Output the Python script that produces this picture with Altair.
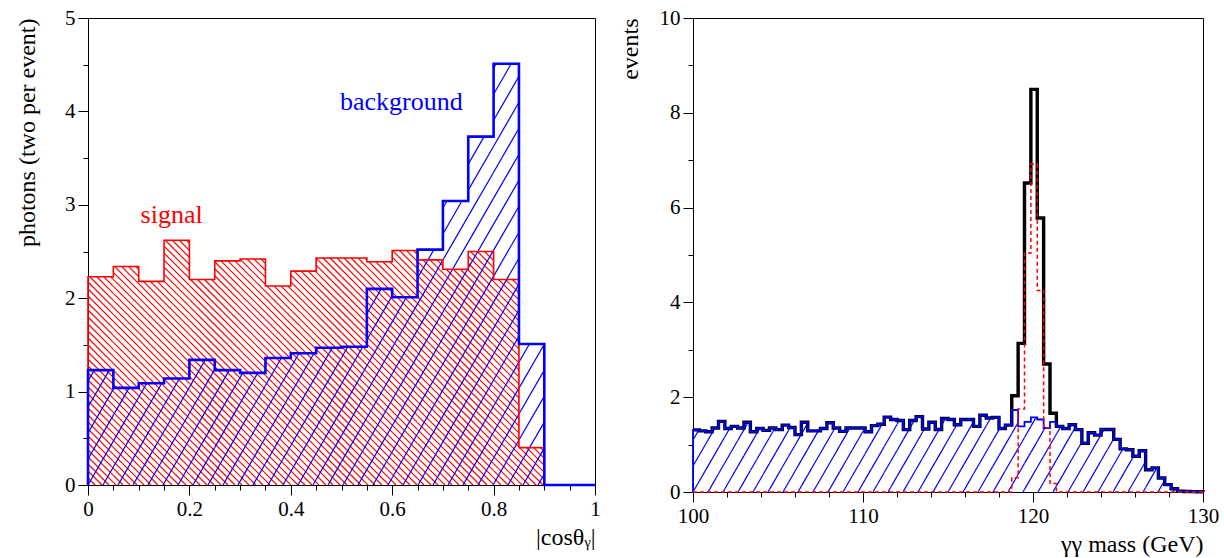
import math
import altair as alt
import pandas as pd

# ---------------- data ----------------
# left panel: |cos theta_gamma|, 20 bins of 0.05 between 0 and 1
cos_lo, cos_bin, cos_nbins = 0.0, 0.05, 20
signal_cos = [2.23, 2.34, 2.18, 2.62, 2.20, 2.40, 2.42, 2.13, 2.29, 2.43,
              2.43, 2.39, 2.51, 2.41, 2.31, 2.50, 2.20, 0.40, 0.0, 0.0]
background_cos = [1.23, 1.04, 1.09, 1.14, 1.34, 1.23, 1.20, 1.36, 1.41, 1.47,
                  1.48, 2.10, 2.01, 2.52, 3.04, 3.73, 4.51, 1.51, 0.0, 0.0]

# right panel: diphoton mass, 80 bins of 0.375 GeV between 100 and 130
mass_lo, mass_bin, mass_nbins = 100.0, 0.375, 80
background_mass = [
    1.31, 1.29, 1.27, 1.35, 1.49, 1.34, 1.385, 1.35, 1.47, 1.27,
    1.34, 1.30, 1.35, 1.315, 1.41, 1.36, 1.21, 1.47, 1.29, 1.29,
    1.34, 1.46, 1.35, 1.28, 1.35, 1.35, 1.35, 1.27, 1.40, 1.43,
    1.58, 1.53, 1.51, 1.315, 1.51, 1.59, 1.33, 1.47, 1.32, 1.55,
    1.53, 1.42, 1.53, 1.53, 1.385, 1.62, 1.56, 1.575, 1.34, 1.41,
    1.73, 1.385, 1.48, 1.575, 1.53, 1.35, 1.48, 1.385, 1.34, 1.42,
    1.315, 1.03, 1.25, 1.20, 1.32, 1.32, 1.11, 0.91, 0.89, 0.755,
    0.87, 0.47, 0.51, 0.295, 0.155, 0.07, 0.015, 0.012, 0.008, 0.005]
signal_mass = [0.0] * 50 + [0.30, 1.75, 5.04, 6.92, 4.25, 1.35, 0.18] + [0.0] * 23

cos_ticks = [round(0.05 * i, 2) for i in range(21)]
cos_y_ticks = [0.5 * i for i in range(11)]
mass_ticks = [100 + 2 * i for i in range(16)]
mass_y_ticks = list(range(11))

FONT = "Liberation Serif, Times New Roman, Times, serif"
RED = "#ff0000"
BLUE = "#0000ff"


def edges(lo, width, n):
    return [lo + width * i for i in range(n + 1)]


def step_frame(e, vals, start_zero=True, end_zero=True):
    pts = []
    if start_zero:
        pts.append((e[0], 0.0))
    for i, v in enumerate(vals):
        pts.append((e[i], v))
        pts.append((e[i + 1], v))
    if end_zero:
        pts.append((e[-1], 0.0))
    return pd.DataFrame({"x": [p[0] for p in pts], "y": [p[1] for p in pts],
                         "i": list(range(len(pts)))})


def hatch_frame(e, vals, sx, sy, spacing, angle, direction):
    """Diagonal hatch segments clipped to the area under a step histogram.
    sx, sy: pixels per data unit; spacing: horizontal line spacing in px."""
    cot = 1.0 / math.tan(math.radians(angle))
    hmax = max(vals) * sy
    xtot = (e[-1] - e[0]) * sx
    if direction == "/":
        k0 = int(math.floor(-hmax * cot / spacing)) - 1
        k1 = int(math.ceil(xtot / spacing)) + 1
    else:
        k0 = -1
        k1 = int(math.ceil((xtot + hmax * cot) / spacing)) + 1
    rows = []
    for i, v in enumerate(vals):
        if v <= 0:
            continue
        X0 = (e[i] - e[0]) * sx
        X1 = (e[i + 1] - e[0]) * sx
        H = v * sy
        for k in range(k0, k1 + 1):
            c = k * spacing
            if direction == "/":
                ya, yb = (X0 - c) / cot, (X1 - c) / cot
            else:
                ya, yb = (c - X1) / cot, (c - X0) / cot
            lo, hi = max(ya, 0.0), min(yb, H)
            if hi - lo <= 1e-9:
                continue
            if direction == "/":
                xa, xb = c + lo * cot, c + hi * cot
            else:
                xa, xb = c - lo * cot, c - hi * cot
            rows.append({"x": e[0] + xa / sx, "y": lo / sy,
                         "x2": e[0] + xb / sx, "y2": hi / sy})
    return pd.DataFrame(rows)


def tick_axis(values, major_test, title, title_pad=6, major=10, minor=5):
    return alt.Axis(
        values=values,
        labelExpr=f"({major_test}) ? format(datum.value, '~g') : ''",
        tickSize={"condition": {"test": major_test, "value": major}, "value": minor},
        grid=False, labelOverlap=False, labelFlush=False,
        labelFont=FONT, labelFontSize=21, labelColor="black", labelPadding=3,
        domainColor="black", tickColor="black",
        title=title, titleFont=FONT, titleFontSize=24, titleFontWeight="normal",
        titleColor="black", titleAnchor="end", titlePadding=title_pad,
    )


# ---------------- left panel ----------------
LW, LH = 507, 467
e_cos = edges(cos_lo, cos_bin, cos_nbins)
sx_l, sy_l = LW / 1.0, LH / 5.0

lx = alt.X("x:Q", scale=alt.Scale(domain=[0, 1], nice=False, zero=False),
           axis=tick_axis(cos_ticks, "abs(datum.value*5 - round(datum.value*5)) < 0.001",
                          "|cosθᵧ|"))
ly = alt.Y("y:Q", scale=alt.Scale(domain=[0, 5], nice=False),
           axis=tick_axis(cos_y_ticks, "abs(datum.value - round(datum.value)) < 0.001",
                          "photons (two per event)", title_pad=25))

red_hatch_l = alt.Chart(hatch_frame(e_cos, signal_cos, sx_l, sy_l, 7.0, 45, "\\")).mark_rule(
    stroke=RED, color=RED, strokeWidth=1.2, opacity=1, strokeCap="butt").encode(
    x=lx, y=ly, x2="x2:Q", y2="y2:Q")
blue_hatch_l = alt.Chart(hatch_frame(e_cos, background_cos, sx_l, sy_l, 15.0, 60, "/")).mark_rule(
    stroke=BLUE, color=BLUE, strokeWidth=1.2, opacity=1, strokeCap="butt").encode(
    x=lx, y=ly, x2="x2:Q", y2="y2:Q")
red_line_l = alt.Chart(step_frame(e_cos[:19], signal_cos[:18])).mark_line(
    color=RED, strokeWidth=1.6).encode(x=lx, y=ly, order="i:Q")
blue_line_l = alt.Chart(step_frame(e_cos, background_cos)).mark_line(
    color=BLUE, strokeWidth=2.6).encode(x=lx, y=ly, order="i:Q")

labels_l = pd.DataFrame({"x": [0.165, 0.618], "y": [2.81, 4.01],
                         "label": ["signal", "background"], "c": [RED, BLUE]})
text_l = alt.Chart(labels_l).mark_text(font=FONT, fontSize=26, align="center",
                                       baseline="alphabetic").encode(
    x=lx, y=ly, text="label:N", color=alt.Color("c:N", scale=None))

left = alt.layer(red_hatch_l, blue_hatch_l, red_line_l, blue_line_l, text_l).properties(
    width=LW, height=LH)

# ---------------- right panel ----------------
RW, RH = 510, 474
e_m = edges(mass_lo, mass_bin, mass_nbins)
sx_r, sy_r = RW / 30.0, RH / 10.0
total_mass = [b + s for b, s in zip(background_mass, signal_mass)]

rx = alt.X("x:Q", scale=alt.Scale(domain=[100, 130], nice=False, zero=False),
           axis=tick_axis(mass_ticks, "datum.value % 10 == 0", "γγ mass (GeV)"))
ry = alt.Y("y:Q", scale=alt.Scale(domain=[0, 10], nice=False),
           axis=tick_axis(mass_y_ticks, "datum.value % 2 == 0", "events", title_pad=17))

blue_hatch_r = alt.Chart(hatch_frame(e_m, background_mass, sx_r, sy_r, 15.0, 60, "/")).mark_rule(
    stroke=BLUE, color=BLUE, strokeWidth=1.2, opacity=1, strokeCap="butt").encode(
    x=rx, y=ry, x2="x2:Q", y2="y2:Q")
total_line = alt.Chart(step_frame(e_m, total_mass, start_zero=False)).mark_line(
    color="black", strokeWidth=3.4).encode(x=rx, y=ry, order="i:Q")
bg_line = alt.Chart(step_frame(e_m, background_mass)).mark_line(
    color=BLUE, strokeWidth=1.8).encode(x=rx, y=ry, order="i:Q")
sig_line = alt.Chart(step_frame(e_m, signal_mass)).mark_line(
    color=RED, strokeWidth=1.5, strokeDash=[4, 3]).encode(x=rx, y=ry, order="i:Q")

right = alt.layer(blue_hatch_r, total_line, bg_line, sig_line).properties(width=RW, height=RH)

chart = alt.hconcat(left, right, spacing=16).properties(
    padding={"left": 14, "top": 6, "right": 4, "bottom": 4},
    background="white",
).configure_view(stroke="black", strokeWidth=1).configure_axis(
    domainWidth=1, tickWidth=1)

chart.save("out.html", embed_options={"renderer": "svg", "actions": False})
